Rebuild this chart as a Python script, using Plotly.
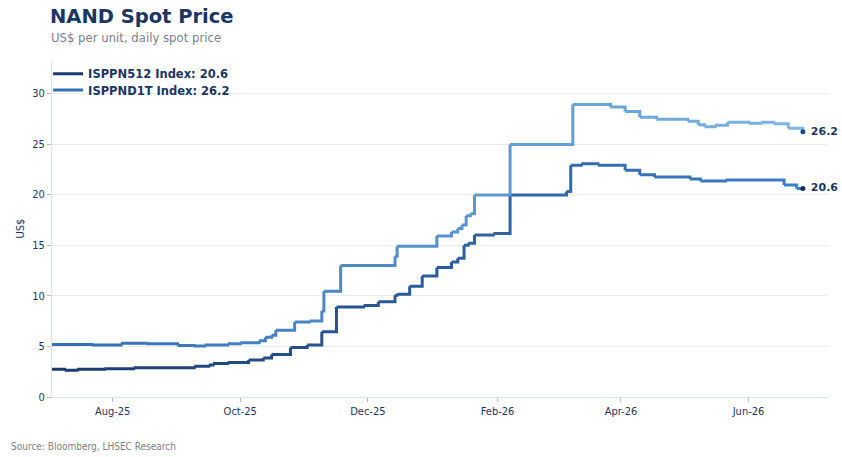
import plotly.graph_objects as go
import pandas as pd

# step points (value holds until the next date)
n512_dates = ["2025-07-03", "2025-07-09", "2025-07-15", "2025-07-28", "2025-08-11",
              "2025-09-09", "2025-09-16", "2025-09-18", "2025-09-25", "2025-10-05",
              "2025-10-12", "2025-10-16", "2025-10-25", "2025-11-02", "2025-11-09",
              "2025-11-16", "2025-11-29", "2025-12-06", "2025-12-14", "2025-12-15",
              "2025-12-21", "2025-12-27", "2026-01-03", "2026-01-10", "2026-01-13",
              "2026-01-16", "2026-01-18", "2026-01-21", "2026-01-30", "2026-02-07",
              "2026-03-06", "2026-03-08", "2026-03-13", "2026-03-21", "2026-04-03",
              "2026-04-10", "2026-04-17", "2026-05-04", "2026-05-09", "2026-05-21",
              "2026-06-18", "2026-06-24", "2026-06-27"]
n512_values = [2.75, 2.65, 2.75, 2.8, 2.9,
               3.05, 3.15, 3.3, 3.4, 3.65,
               3.85, 4.2, 4.9, 5.15, 6.45,
               8.9, 9.05, 9.4, 10.05, 10.15,
               10.95, 11.95, 12.8, 13.35, 13.7,
               15.0, 15.2, 16.0, 16.15, 19.95,
               20.3, 22.9, 23.05, 22.9, 22.4,
               21.95, 21.75, 21.55, 21.35, 21.45,
               20.95, 20.6, 20.6]

nd1t_dates = ["2025-07-03", "2025-07-22", "2025-08-05", "2025-08-17", "2025-09-01",
              "2025-09-09", "2025-09-14", "2025-09-25", "2025-10-01", "2025-10-10",
              "2025-10-13", "2025-10-16", "2025-10-18", "2025-10-27", "2025-11-03",
              "2025-11-09", "2025-11-10", "2025-11-18", "2025-12-14", "2025-12-15",
              "2026-01-03", "2026-01-10", "2026-01-13", "2026-01-15", "2026-01-17",
              "2026-01-19", "2026-01-21", "2026-02-07", "2026-03-09", "2026-03-27",
              "2026-04-03", "2026-04-10", "2026-04-18", "2026-05-03", "2026-05-08",
              "2026-05-11", "2026-05-16", "2026-05-22", "2026-06-01", "2026-06-07",
              "2026-06-13", "2026-06-20", "2026-06-27"]
nd1t_values = [5.2, 5.15, 5.3, 5.25, 5.1,
               5.05, 5.15, 5.25, 5.35, 5.55,
               5.9, 6.1, 6.6, 7.4, 7.5,
               8.5, 10.45, 13.0, 13.9, 14.9,
               15.9, 16.3, 16.65, 17.0, 17.9,
               18.1, 19.95, 24.95, 28.9, 28.65,
               28.2, 27.65, 27.45, 27.25, 26.9,
               26.7, 26.85, 27.15, 27.05, 27.15,
               27.0, 26.55, 26.2]

series = [
    ("ISPPN512 Index: 20.6", n512_dates, n512_values, (27, 57, 108), (60, 128, 202), "20.6", "#14305c"),
    ("ISPPND1T Index: 26.2", nd1t_dates, nd1t_values, (46, 108, 180), (128, 183, 228), "26.2", "#1d4a88"),
]

x_start = pd.Timestamp("2025-07-03")
x_end = pd.Timestamp("2026-06-27")


def mix(c0, c1, t):
    return "rgb(%d,%d,%d)" % tuple(round(a + (b - a) * t) for a, b in zip(c0, c1))


fig = go.Figure()

for k, (name, dates, vals, c0, c1, last_txt, dot_col) in enumerate(series):
    d = pd.to_datetime(dates)
    leg = "legend" if k == 0 else "legend2"
    for i in range(len(d) - 1):
        mid = d[i] + (d[i + 1] - d[i]) / 2
        t = (mid - x_start) / (x_end - x_start)
        fig.add_trace(go.Scatter(
            x=[d[i], d[i + 1]], y=[vals[i], vals[i + 1]],
            mode="lines", line=dict(color=mix(c0, c1, t), width=3, shape="hv"),
            name=name, legendgroup=name, showlegend=(i == 0), legend=leg,
            hoverinfo="skip"
        ))
    # end point dot + label
    fig.add_trace(go.Scatter(
        x=[d[-1]], y=[vals[-1]], mode="markers+text",
        marker=dict(color=dot_col, size=5),
        text=[" " + last_txt], textposition="middle right",
        textfont=dict(family="DejaVu Sans", size=11, color="#1b3564", weight="bold"),
        cliponaxis=False, showlegend=False, hoverinfo="skip"
    ))

leg_font = dict(family="DejaVu Sans", size=11.5, color="#1b3564", weight="bold")
fig.update_layout(
    width=842, height=457,
    margin=dict(l=52, r=14, t=60, b=60),
    paper_bgcolor="white", plot_bgcolor="white",
    font=dict(family="DejaVu Sans Condensed, DejaVu Sans", size=11, color="#1b3564"),
    legend=dict(x=-0.005, y=1.002, xanchor="left", yanchor="top",
                bgcolor="rgba(0,0,0,0)", font=leg_font),
    legend2=dict(x=-0.005, y=0.954, xanchor="left", yanchor="top",
                 bgcolor="rgba(0,0,0,0)", font=leg_font),
    annotations=[
        dict(text="<b>NAND Spot Price</b>", xref="paper", yref="paper", x=-0.005, y=1.128,
             xanchor="left", yanchor="middle", showarrow=False,
             font=dict(family="DejaVu Sans", size=19.5, color="#1b3564")),
        dict(text="US$ per unit, daily spot price", xref="paper", yref="paper", x=-0.004, y=1.066,
             xanchor="left", yanchor="middle", showarrow=False,
             font=dict(family="DejaVu Sans", size=11.7, color="#7b808c")),
        dict(text="Source: Bloomberg, LHSEC Research", xref="paper", yref="paper", x=-0.056, y=-0.148,
             xanchor="left", yanchor="middle", showarrow=False,
             font=dict(family="DejaVu Sans Condensed, DejaVu Sans", size=10, color="#7b808c")),
    ],
)

fig.update_xaxes(
    type="date", range=["2025-07-03", "2026-07-09"],
    tickvals=["2025-08-01", "2025-10-01", "2025-12-01", "2026-02-01", "2026-04-01", "2026-06-01"],
    ticktext=["Aug-25", "Oct-25", "Dec-25", "Feb-26", "Apr-26", "Jun-26"],
    showgrid=False, showline=True, linecolor="#dde3ec", linewidth=1,
    ticks="outside", ticklen=4, tickcolor="#b5bcc8",
    tickfont=dict(size=11, color="#1b3564"), zeroline=False,
)
fig.update_yaxes(
    range=[0, 33.3], tickvals=[0, 5, 10, 15, 20, 25, 30],
    showgrid=True, gridcolor="#e9edf3", gridwidth=1,
    showline=True, linecolor="#dde3ec", linewidth=1,
    ticks="outside", ticklen=4, tickcolor="#b5bcc8",
    tickfont=dict(size=11, color="#1b3564"), zeroline=False,
    title=dict(text="US$", font=dict(size=11, color="#1b3564"), standoff=5),
)

fig.write_html("out.html", config={"displayModeBar": False},
               post_script="document.body.style.margin='0';")
